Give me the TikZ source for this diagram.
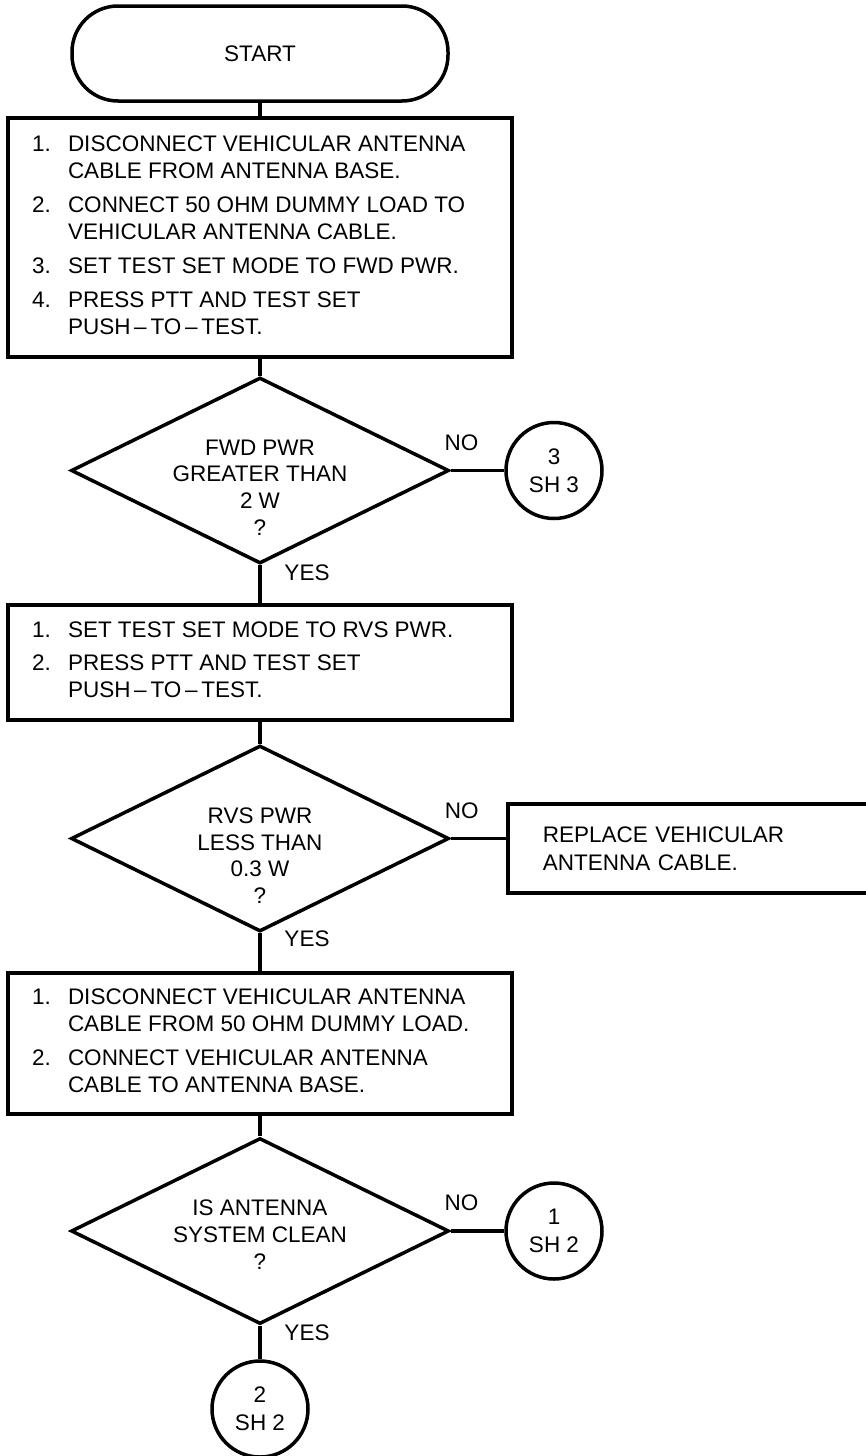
\documentclass[tikz,border=0pt]{standalone}
\usepackage{fontspec}
\setmainfont{Liberation Sans}
\usetikzlibrary{shapes.geometric}

% numbered steps inside a box
\newcommand{\steplines}[1]{\begin{tabular}{@{}p{36pt}@{}p{420pt}@{}}#1\end{tabular}}

\begin{document}
\begin{tikzpicture}[x=1pt, y=-1pt,
    every node/.style={font=\fontsize{22.5}{27}\selectfont},
    terminal/.style={draw, line width=3.5pt, rounded corners=46pt, minimum width=376pt, minimum height=95pt},
    stepbox/.style={draw, line width=3.5pt, minimum width=504pt, inner xsep=0pt, inner ysep=0pt},
    decision/.style={draw, diamond, line width=3.5pt, minimum width=378pt, minimum height=186pt, inner sep=0pt},
    qtext/.style={align=center, inner sep=0pt, anchor=north, font=\fontsize{22.5}{26.7}\selectfont},
    offpage/.style={draw, circle, line width=3.5pt, minimum size=96pt, inner sep=0pt, align=center, font=\fontsize{22.5}{28}\selectfont},
    flow/.style={line width=4.5pt},
    branch/.style={line width=3.5pt},
    lbl/.style={inner sep=0pt}
]
    \useasboundingbox (0,0) rectangle (866,1456);

    % Start
    \node[terminal] (start) at (260,53.5) {START};

    % Forward power
    \node[stepbox, minimum height=239pt] (box1) at (260,237.5) {\steplines{
        1. & DISCONNECT VEHICULAR ANTENNA \\
           & CABLE FROM ANTENNA BASE. \\[7pt]
        2. & CONNECT 50 OHM DUMMY LOAD TO \\
           & VEHICULAR ANTENNA CABLE. \\[7pt]
        3. & SET TEST SET MODE TO FWD PWR. \\[7pt]
        4. & PRESS PTT AND TEST SET \\
           & PUSH\,\textendash\,TO\,\textendash\,TEST.
    }};
    \node[decision] (q1) at (260,470.5) {};
    \node[qtext] (q1txt) at ([yshift=31pt]q1.center) {FWD PWR\\GREATER THAN\\2 W\\?};
    \node[offpage] (c3) at (554,470.5) {3\\SH 3};

    % Reverse power
    \node[stepbox, minimum height=115pt] (box2) at (260,662.5) {\steplines{
        1. & SET TEST SET MODE TO RVS PWR. \\[6pt]
        2. & PRESS PTT AND TEST SET \\
           & PUSH\,\textendash\,TO\,\textendash\,TEST.
    }};
    \node[decision] (q2) at (260,838.5) {};
    \node[qtext] (q2txt) at ([yshift=31pt]q2.center) {RVS PWR\\LESS THAN\\0.3 W\\?};
    \node[stepbox, anchor=west, minimum width=380pt, minimum height=89pt, inner xsep=35pt,
          text width=310pt, align=left, font=\fontsize{22.5}{28}\selectfont] (fix) at (506,848.5)
          {REPLACE VEHICULAR\\ANTENNA CABLE.};

    % Reconnect antenna
    \node[stepbox, minimum height=141pt] (box3) at (260,1043.5) {\steplines{
        1. & DISCONNECT VEHICULAR ANTENNA \\
           & CABLE FROM 50 OHM DUMMY LOAD. \\[7pt]
        2. & CONNECT VEHICULAR ANTENNA \\
           & CABLE TO ANTENNA BASE.
    }};
    \node[decision] (q3) at (260,1231) {};
    \node[qtext] (q3txt) at ([yshift=31pt]q3.center) {IS ANTENNA\\SYSTEM CLEAN\\?};
    \node[offpage] (c1) at (554,1231) {1\\SH 2};
    \node[offpage] (c2) at (260,1409) {2\\SH 2};

    % Flow lines
    \draw[flow] (start) -- (box1);
    \draw[flow] (box1) -- (q1);
    \draw[flow] (q1) -- node[lbl, pos=0.2, xshift=47pt] (yes1) {YES} (box2);
    \draw[flow] (box2) -- (q2);
    \draw[flow] (q2) -- node[lbl, pos=0.15, xshift=47pt] (yes2) {YES} (box3);
    \draw[flow] (box3) -- (q3);
    \draw[flow] (q3) -- node[lbl, pos=0.2, xshift=47pt] (yes3) {YES} (c2);

    \draw[branch] (q1.east) -- node[lbl, pos=0.2, yshift=28pt] (no1) {NO} (c3);
    \draw[branch] (q2.east) -- node[lbl, pos=0.2, yshift=28pt] (no2) {NO} (q2.east -| fix.west);
    \draw[branch] (q3.east) -- node[lbl, pos=0.2, yshift=28pt] (no3) {NO} (c1);
\end{tikzpicture}
\end{document}
